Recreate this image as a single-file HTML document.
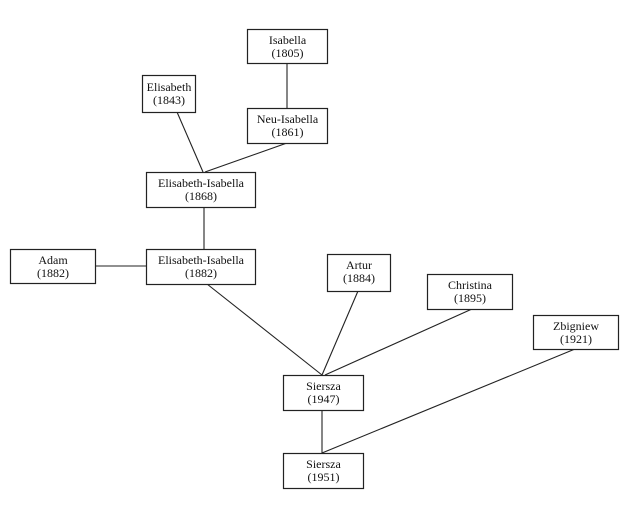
<!DOCTYPE html>
<html><head><meta charset="utf-8"><style>
body{margin:0;background:#fff;}
svg{display:block;}
text{font-family:"Liberation Serif",serif;font-size:12px;fill:#111;text-anchor:middle;}
rect{fill:#fff;stroke:#222;stroke-width:1.2;}
line{stroke:#222;stroke-width:1.1;}
</style></head><body>
<svg width="630" height="509" viewBox="0 0 630 509">
<line x1="287" y1="63" x2="287" y2="108"/>
<line x1="177" y1="112" x2="203" y2="172"/>
<line x1="287" y1="143" x2="205" y2="172"/>
<line x1="204" y1="207" x2="204" y2="249"/>
<line x1="95" y1="266" x2="146" y2="266"/>
<line x1="207" y1="284" x2="322" y2="375"/>
<line x1="358" y1="291" x2="322" y2="375"/>
<line x1="472" y1="309" x2="325" y2="375"/>
<line x1="575" y1="349" x2="322" y2="453"/>
<line x1="322" y1="410" x2="322" y2="453"/>

<rect x="247.5" y="29.5" width="80" height="34"/>
<text x="287.5" y="44">Isabella</text><text x="287.5" y="57">(1805)</text>
<rect x="142.5" y="75.5" width="53" height="37"/>
<text x="169" y="91">Elisabeth</text><text x="169" y="104">(1843)</text>
<rect x="247.5" y="108.5" width="80" height="35"/>
<text x="287.5" y="123">Neu-Isabella</text><text x="287.5" y="136">(1861)</text>
<rect x="146.5" y="172.5" width="109" height="35"/>
<text x="201" y="187">Elisabeth-Isabella</text><text x="201" y="200">(1868)</text>
<rect x="10.5" y="249.5" width="85" height="34"/>
<text x="53" y="264">Adam</text><text x="53" y="277">(1882)</text>
<rect x="146.5" y="249.5" width="109" height="35"/>
<text x="201" y="264">Elisabeth-Isabella</text><text x="201" y="277">(1882)</text>
<rect x="327.5" y="254.5" width="63" height="37"/>
<text x="359" y="269">Artur</text><text x="359" y="282">(1884)</text>
<rect x="427.5" y="274.5" width="85" height="35"/>
<text x="470" y="289">Christina</text><text x="470" y="302">(1895)</text>
<rect x="533.5" y="315.5" width="85" height="34"/>
<text x="576" y="330">Zbigniew</text><text x="576" y="343">(1921)</text>
<rect x="283.5" y="375.5" width="80" height="35"/>
<text x="323.5" y="390">Siersza</text><text x="323.5" y="403">(1947)</text>
<rect x="283.5" y="453.5" width="80" height="35"/>
<text x="323.5" y="468">Siersza</text><text x="323.5" y="481">(1951)</text>
</svg>
</body></html>
